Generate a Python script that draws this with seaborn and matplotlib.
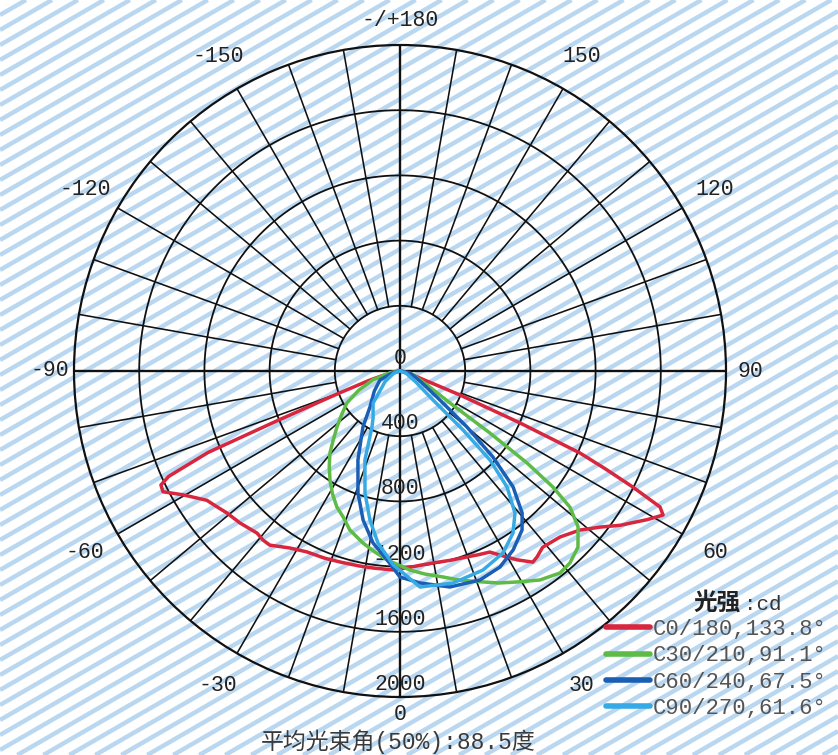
import numpy as np
import pandas as pd
import matplotlib
matplotlib.use("Agg")
import matplotlib.pyplot as plt
import seaborn as sns

# ---------------- data ----------------
series_names = ["C0/180,133.8°", "C30/210,91.1°", "C60/240,67.5°", "C90/270,61.6°"]
series_colors = ["#d7263d", "#5dbb46", "#1b5fb5", "#36aae4"]

c0_gamma = [-90, -80, -75, -73, -70, -68, -67, -65.5, -64.5, -63, -60.3, -56.2, -53.4,
            -50.6, -46.5, -41.4, -39, -36.8, -31.9, -27.2, -22, -17.4, -12, -7.8, -2,
            2, 6, 10, 15, 20, 23, 26.4, 28.5, 31.8, 34.8, 36.4, 39, 44, 48.5, 52, 55,
            59, 61.3, 62.4, 63.5, 64.5, 65.5, 66.6, 68.2, 70, 75, 80, 90]
c0_cd = [0, 40, 120, 200, 400, 800, 1280, 1560, 1625, 1632, 1533, 1426, 1398,
         1373, 1354, 1326, 1335, 1334, 1279, 1248, 1238, 1228, 1222, 1220, 1221,
         1209, 1198, 1195, 1202, 1213, 1225, 1240, 1285, 1363, 1428, 1417, 1391, 1415, 1473, 1556, 1650,
         1770, 1840, 1800, 1597, 1400, 1213, 802, 396, 150, 60, 25, 0]

c30_gamma = [-90, -80, -72, -65, -59, -53, -48.4, -44, -40.5, -36.5, -32.7, -28.8, -24.9,
             -21.3, -17.5, -12.1, -8, -3.9, 2.9, 7, 11.8, 16, 21.5, 25, 29, 33.8, 38.4,
             41.5, 45.3, 48.8, 51.3, 52.8, 54.1, 55.4, 57.4, 62, 73, 90]
c30_cd = [0, 60, 175, 280, 380, 450, 517, 590, 662, 730, 795, 860, 920,
          961, 1023, 1080, 1120, 1162, 1223, 1255, 1291, 1335, 1391, 1435, 1480, 1543, 1581,
          1573, 1536, 1452, 1336, 1178, 962, 671, 364, 200, 84, 0]

c60_gamma = [-90, -75, -65.8, -52, -39.8, -33.5, -25.3, -19, -13.9, -8.9, -3.9, 0, 5.4,
             13, 20.9, 27, 32.3, 37.5, 40.7, 44.3, 47.2, 50.1, 54, 62, 79, 90]
c60_cd = [0, 50, 135, 200, 288, 412, 604, 792, 942, 1068, 1162, 1264, 1306,
          1360, 1373, 1350, 1299, 1230, 1149, 993, 777, 536, 303, 150, 63, 0]

c90_gamma = [-90, -70, -55, -40, -30, -26.6, -21.5, -16, -11.4, -7.3, -2, 5.3, 14,
             22.6, 29.5, 34.9, 39, 42.7, 45.3, 46.9, 48.7, 55, 70, 90]
c90_cd = [0, 40, 110, 257, 330, 384, 587, 779, 933, 1064, 1190, 1331, 1341,
          1323, 1283, 1212, 1121, 968, 777, 529, 269, 120, 40, 0]

radial_ticks = [0, 400, 800, 1200, 1600, 2000]
angle_ticks = [0, 30, 60, 90, 120, 150, 180, -150, -120, -90, -60, -30]
angle_labels = ["0", "30", "60", "90", "120", "150", "-/+180", "-150", "-120", "-90", "-60", "-30"]
legend_title = "光强"
legend_unit = ":cd"
footer = "平均光束角(50%):88.5度"

# ---------------- style ----------------
sns.set_style("white")
plt.rcParams["font.family"] = ["Liberation Mono", "Noto Sans CJK SC", "DejaVu Sans"]
TXT = "#222222"

W, H = 838, 755
fig = plt.figure(figsize=(W / 100, H / 100), dpi=100)
fig.patch.set_facecolor("white")

# background diagonal stripes (scan texture)
bg = fig.add_axes([0, 0, 1, 1], zorder=-10)
bg.set_xlim(0, W)
bg.set_ylim(0, H)
bg.axis("off")
for c in np.arange(-520, H + 20, 15):
    bg.axline((0, c), slope=np.tan(np.deg2rad(30)), color="#b9d7f0", lw=3.2,
              solid_capstyle="butt")

# polar axes
cx, cy, R = 400, 371, 326
ax = fig.add_axes([(cx - R) / W, (H - cy - R) / H, 2 * R / W, 2 * R / H],
                  projection="polar")
ax.set_facecolor("none")
ax.set_theta_zero_location("S")
ax.set_theta_direction(1)
ax.set_ylim(0, 2000)
ax.grid(False)
ax.set_xticks([])
ax.set_yticks([])
ax.spines["polar"].set_color("#111111")
ax.spines["polar"].set_linewidth(1.6)

# rings
th = np.linspace(0, 2 * np.pi, 720)
for r in radial_ticks[1:-1]:
    ax.plot(th, np.full_like(th, r), color="#111111", lw=1.3, zorder=1)
# spokes every 10 degrees (outside inner ring)
for a in range(0, 360, 10):
    if a % 90 == 0:
        continue
    ax.plot([np.deg2rad(a)] * 2, [radial_ticks[1], radial_ticks[-1]], color="#111111",
            lw=1.15, zorder=1)
# main cross
for a in (0, 90, 180, 270):
    ax.plot([np.deg2rad(a)] * 2, [0, radial_ticks[-1]], color="#111111", lw=1.7, zorder=1)

# curves through seaborn
frames = []
for name, g, v in zip(series_names,
                      [c0_gamma, c30_gamma, c60_gamma, c90_gamma],
                      [c0_cd, c30_cd, c60_cd, c90_cd]):
    frames.append(pd.DataFrame({"series": name, "theta": np.deg2rad(g), "cd": v}))
df = pd.concat(frames, ignore_index=True)
sns.lineplot(data=df, x="theta", y="cd", hue="series", hue_order=series_names,
             palette=series_colors, sort=False, estimator=None, lw=2.5, ax=ax,
             legend=True, zorder=4)
ax.set_xlabel("")
ax.set_ylabel("")
handles, labels = ax.get_legend_handles_labels()
if ax.get_legend() is not None:
    ax.get_legend().remove()
ax.set_ylim(0, 2000)

# radial labels
for r in radial_ticks:
    ax.annotate(str(r), xy=(0, r), xytext=(0, 1.5), textcoords="offset points",
                ha="center", va="bottom", fontsize=15.5, color=TXT, zorder=3)

# angle labels
for a, lab in zip(angle_ticks, angle_labels):
    if a == 0:
        rr = 2110
    elif a % 90 == 0:
        rr = 2150
    else:
        rr = 2230
    ax.text(np.deg2rad(a), rr, lab, ha="center", va="center", fontsize=15.5,
            color=TXT, clip_on=False)

# legend
leg = fig.legend(handles, labels, loc="upper left",
                 bbox_to_anchor=(606 / W, 1 - 619 / H), frameon=False,
                 fontsize=16, handlelength=2.0, handletextpad=0.1,
                 labelspacing=0.24, borderaxespad=0, borderpad=0)
for line in leg.get_lines():
    line.set_linewidth(4)
for t in leg.get_texts():
    t.set_color("#555555")
fig.text(693 / W, 1 - 603 / H, legend_title, fontsize=17, weight="bold",
         family=["Noto Sans CJK SC"], color="#222222", ha="left", va="center")
fig.text(744 / W, 1 - 604 / H, legend_unit, fontsize=15, color="#333333",
         ha="left", va="center")

# footer
fig.text(398 / W, 1 / H, footer, fontsize=16.5, color="#3a3a3a",
         ha="center", va="bottom",
         family=["Liberation Mono", "Noto Sans CJK SC"])

fig.savefig("out.png", dpi=100, facecolor="white")
